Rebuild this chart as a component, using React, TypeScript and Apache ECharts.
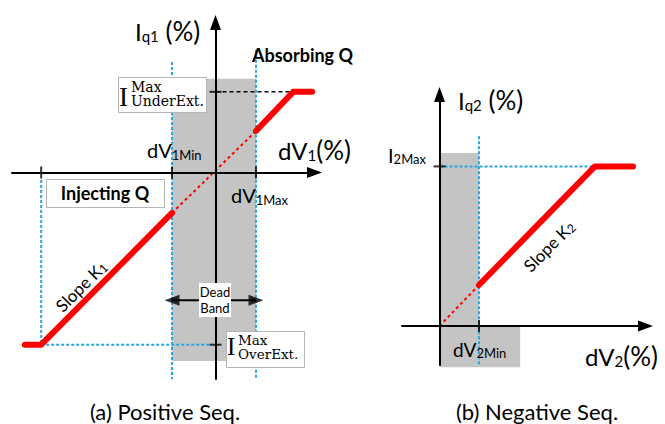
import React, { useEffect, useRef } from 'react';
import * as echarts from 'echarts';

// ---------- Panel (a): positive sequence ----------
const posRangeX = [-4.845, 2.357];
const posRangeY = [-4.917, 3.571];
const posRedLow = [[-4.54, -4.1], [-4.15, -4.1], [-1.035, -0.964]];
const posRedDead = [[-1.035, -0.964], [0.964, 0.988]];
const posRedHigh = [[0.964, 0.988], [1.85, 1.92], [2.3, 1.92]];
const posGrey = [[-1.035, -4.49, 0.964, 2.23]];
const posBlueLines = [
  [[-1.035, 2.63], [-1.035, -4.92]],
  [[0.964, 2.92], [0.964, -4.92]],
  [[-4.15, -0.18], [-4.15, -4.1]],
  [[-4.15, -4.1], [-0.107, -4.1]],
];
const posBlackDash = [[0, 1.92], [1.85, 1.92]];
const posTicksX = [-4.15, -1.035, 0.964];
const posTicksY = [1.92, -4.1];
const posDeadBandArrow = [[-1.035, -3.04], [0.964, -3.04]];

// ---------- Panel (b): negative sequence ----------
const negRangeX = [-0.893, 4.905];
const negRangeY = [-0.929, 5.512];
const negRedDead = [[0, 0], [0.94, 0.976]];
const negRedLine = [[0.94, 0.976], [3.7, 3.8], [4.607, 3.8]];
const negGrey = [[0, 0, 0.94, 4.12], [0, -0.98, 1.92, 0]];
const negBlueLines = [
  [[0.94, 4.52], [0.94, -0.93]],
  [[0, 3.8], [3.7, 3.8]],
];
const negTicksX = [0.94];
const negTicksY = [3.8];

const SANS = 'Lato, "Noto Sans", sans-serif';
const SERIF = '"Liberation Serif", "DejaVu Serif", serif';
const SERIF2 = '"DejaVu Serif", "Liberation Serif", serif';
const RED = '#ff0000';
const BLUE = '#27a6df';
const GREY = '#c4c4c4';

function lineSeries(data: number[][], grid: number, lineStyle: any, z: number, extra: any = {}) {
  return {
    type: 'line',
    xAxisIndex: grid,
    yAxisIndex: grid,
    data,
    symbol: 'none',
    showSymbol: false,
    silent: true,
    clip: false,
    lineStyle,
    z,
    ...extra,
  };
}

function greyRects(data: number[][], grid: number) {
  return {
    type: 'custom',
    xAxisIndex: grid,
    yAxisIndex: grid,
    data,
    silent: true,
    clip: false,
    z: 1,
    encode: { x: [0, 2], y: [1, 3] },
    renderItem: (_p: any, api: any) => {
      const a = api.coord([api.value(0), api.value(1)]);
      const b = api.coord([api.value(2), api.value(3)]);
      return {
        type: 'rect',
        shape: {
          x: Math.min(a[0], b[0]),
          y: Math.min(a[1], b[1]),
          width: Math.abs(b[0] - a[0]),
          height: Math.abs(b[1] - a[1]),
        },
        style: { fill: GREY },
      };
    },
  };
}

function ticks(data: number[][], grid: number, size: number[]) {
  return {
    type: 'scatter',
    xAxisIndex: grid,
    yAxisIndex: grid,
    data,
    symbol: 'rect',
    symbolSize: size,
    silent: true,
    clip: false,
    itemStyle: { color: '#000' },
    z: 6,
  };
}

function axisPair(grid: number, rx: number[], ry: number[]) {
  const line = {
    onZero: true,
    symbol: ['none', 'triangle'],
    symbolSize: [11, 15],
    lineStyle: { color: '#000', width: 2 },
  };
  const common = {
    gridIndex: grid,
    type: 'value',
    axisLine: line,
    axisTick: { show: false },
    axisLabel: { show: false },
    splitLine: { show: false },
    z: 5,
  };
  return {
    x: { ...common, min: rx[0], max: rx[1] },
    y: { ...common, min: ry[0], max: ry[1] },
  };
}

function subText(x: number, y: number, text: string, m: number, s: number, shift: number, extra: any = {}, p?: number) {
  return {
    type: 'text',
    x,
    y,
    z: 100,
    ...extra,
    style: {
      text,
      align: extra.align || 'left',
      verticalAlign: 'middle',
      rich: {
        m: { fontSize: m, fontFamily: SANS, fill: '#000' },
        p: { fontSize: p || m, fontFamily: SANS, fill: '#000' },
        s: { fontSize: s, fontFamily: SANS, fill: '#000', padding: [shift * 2, 0, 0, 0] },
      },
    },
  };
}

function plainText(x: number, y: number, text: string, size: number, opts: any = {}) {
  return {
    type: 'text',
    x,
    y,
    z: 100,
    style: {
      text,
      fontSize: size,
      fontFamily: opts.family || SANS,
      fontWeight: opts.weight || 'normal',
      fill: '#000',
      align: opts.align || 'left',
      verticalAlign: 'middle',
      lineHeight: opts.lineHeight,
    },
  };
}

function box(x: number, y: number, w: number, h: number, stroke: string | null) {
  return {
    type: 'rect',
    z: 99,
    shape: { x, y, width: w, height: h },
    style: { fill: '#fff', stroke: stroke || 'none', lineWidth: 1 },
  };
}

export default function App() {
  const ref = useRef<HTMLDivElement>(null);
  useEffect(() => {
    if (!ref.current) return;
    const chart = echarts.init(ref.current, null, { renderer: 'svg' });
    const a = axisPair(0, posRangeX, posRangeY);
    const b = axisPair(1, negRangeX, negRangeY);
    const blueStyle = { color: BLUE, width: 2, type: [3, 2] };
    const redThick = { color: RED, width: 6, cap: 'round', join: 'round' };
    const redDot = { color: RED, width: 2, type: [3, 3] };

    const option: any = {
      animation: false,
      backgroundColor: '#fff',
      grid: [
        { left: 12, top: 22.5, width: 302.5, height: 356.5, outerBoundsMode: 'none' },
        { left: 402, top: 94.5, width: 243.5, height: 270.5, outerBoundsMode: 'none' },
      ],
      xAxis: [a.x, b.x],
      yAxis: [a.y, b.y],
      series: [
        greyRects(posGrey, 0),
        ...posBlueLines.map((d) => lineSeries(d, 0, blueStyle, 2)),
        lineSeries(posBlackDash, 0, { color: '#000', width: 1.5, type: [4, 3] }, 2),
        lineSeries(posDeadBandArrow, 0, { color: '#000', width: 2 }, 3),
        lineSeries(posRedDead, 0, redDot, 3),
        lineSeries(posRedLow, 0, redThick, 4),
        lineSeries(posRedHigh, 0, redThick, 4),
        ticks(posTicksX.map((v) => [v, 0]), 0, [2, 12]),
        ticks(posTicksY.map((v) => [0, v]), 0, [12, 2]),
        {
          type: 'scatter',
          xAxisIndex: 0,
          yAxisIndex: 0,
          silent: true,
          clip: false,
          z: 3,
          data: posDeadBandArrow.map((pt, i) => ({ value: pt, symbolRotate: i === 0 ? 90 : -90 })),
          symbol: 'triangle',
          symbolSize: [11, 15],
          itemStyle: { color: '#000' },
        },
        greyRects(negGrey, 1),
        ...negBlueLines.map((d) => lineSeries(d, 1, blueStyle, 2)),
        lineSeries(negRedDead, 1, redDot, 3),
        lineSeries(negRedLine, 1, redThick, 4),
        ticks(negTicksX.map((v) => [v, 0]), 1, [2, 12]),
        ticks(negTicksY.map((v) => [0, v]), 1, [12, 2]),
      ],
      graphic: [
        // panel (a)
        subText(135, 31, '{m|I}{s|q1}{p| (%)}', 24, 15, 5, {}, 26),
        plainText(252, 55, 'Absorbing Q', 18, { weight: 'bold' }),
        box(118.5, 77.5, 88, 35, '#b5b5b5'),
        plainText(119, 96.5, 'I', 27, { family: SERIF }),
        plainText(131, 93.75, 'Max\nUnderExt.', 14, { family: SERIF2, lineHeight: 14.5 }),
        subText(147, 150, '{m|dV}{s|1Min}', 20, 13, 5),
        subText(278, 150, '{m|dV}{s|1}{p|(%)}', 24, 15, 5, {}, 26),
        box(46.5, 179.5, 118, 28, '#b5b5b5'),
        plainText(105, 193, 'Injecting Q', 18, { weight: 'bold', align: 'center' }),
        subText(231, 195, '{m|dV}{s|1Max}', 20, 13, 5),
        subText(81, 286, '{m|Slope K}{s|1}', 17, 12, 3, { rotation: Math.PI / 4, align: 'center' }),
        box(199, 283, 32, 34, null),
        plainText(215, 300, 'Dead\nBand', 13, { align: 'center', lineHeight: 16 }),
        box(226.5, 331.5, 78, 36, '#b5b5b5'),
        plainText(227, 346.5, 'I', 25, { family: SERIF }),
        plainText(238, 347, 'Max\nOverExt.', 13.5, { family: SERIF2, lineHeight: 14.5 }),
        plainText(165, 411, '(a) Positive Seq.', 22, { align: 'center' }),
        // panel (b)
        subText(458, 100, '{m|I}{s|q2}{p| (%)}', 24, 15, 5, {}, 26),
        subText(388, 155, '{m|I}{s|2Max}', 20, 13, 4),
        subText(453, 349, '{m|dV}{s|2Min}', 19, 13, 4),
        subText(585, 356, '{m|dV}{s|2}{p|(%)}', 24, 15, 5, {}, 26),
        subText(549, 246, '{m|Slope K}{s|2}', 17, 12, 3, { rotation: Math.PI / 4, align: 'center' }),
        plainText(537, 411, '(b) Negative Seq.', 22, { align: 'center' }),
      ],
    };
    chart.setOption(option);
    return () => chart.dispose();
  }, []);
  return (
    <div
      ref={ref}
      style={{ position: 'fixed', left: 0, top: 0, width: 665, height: 424, background: '#fff' }}
    />
  );
}
